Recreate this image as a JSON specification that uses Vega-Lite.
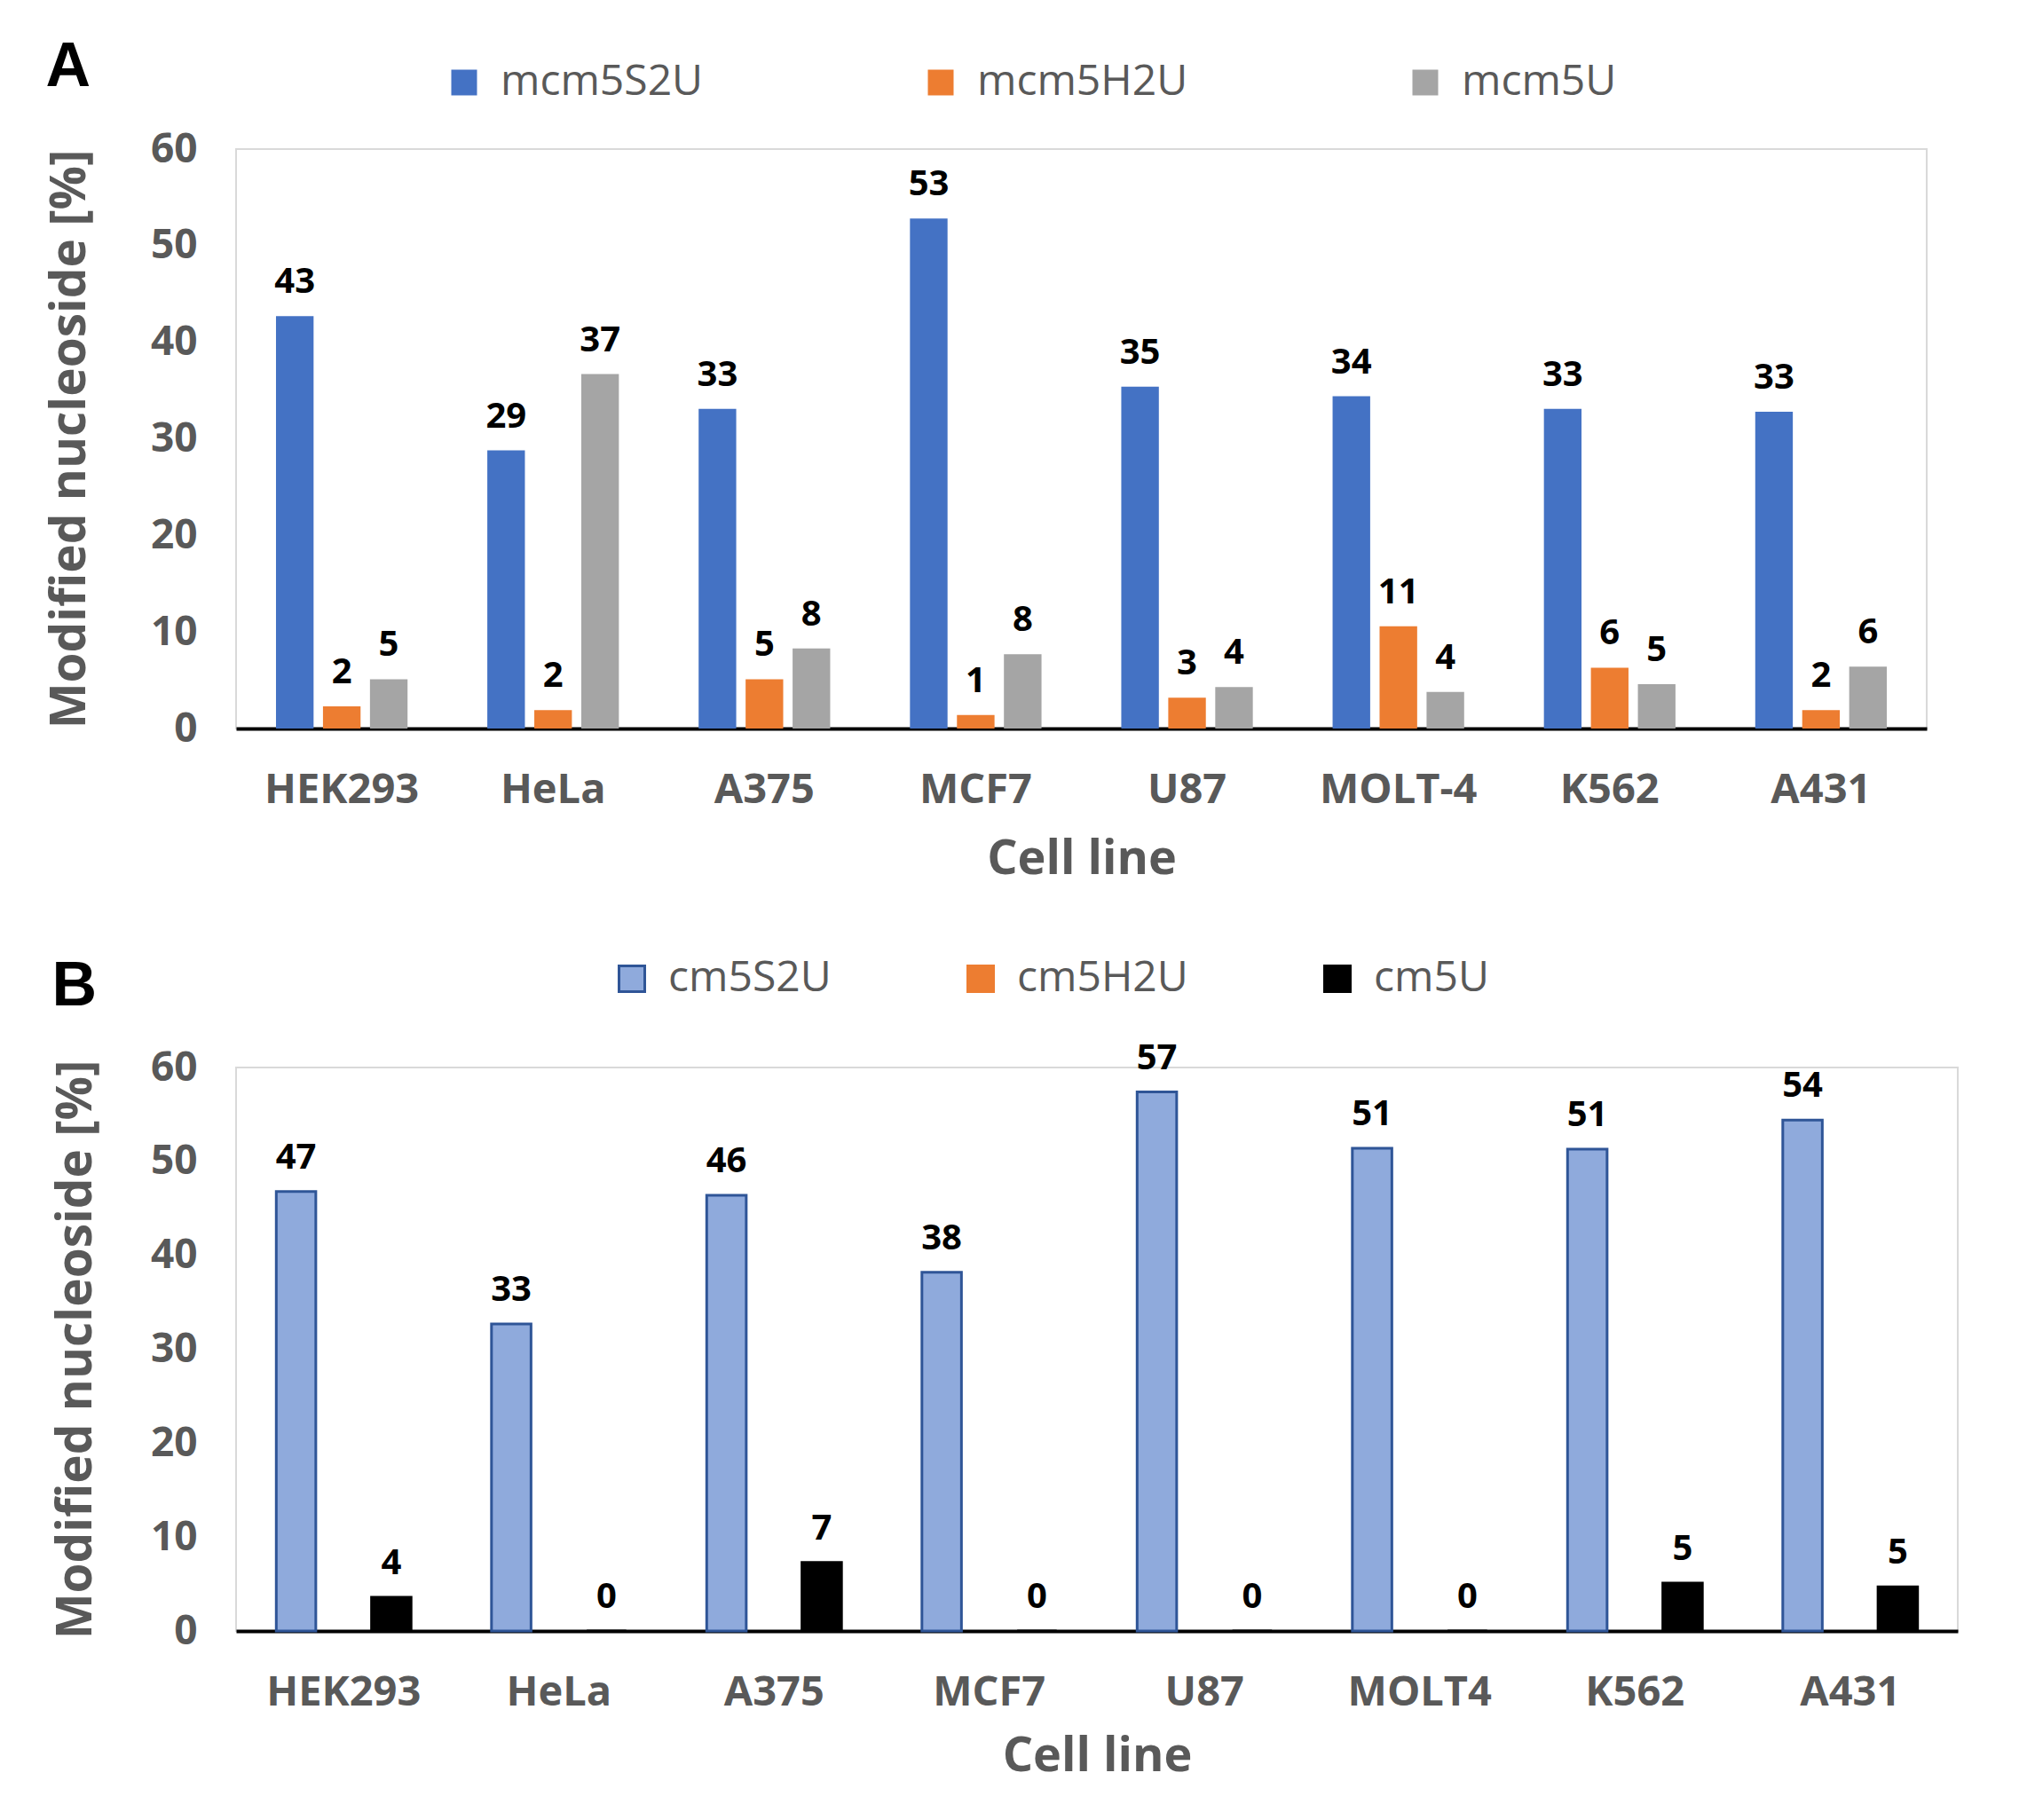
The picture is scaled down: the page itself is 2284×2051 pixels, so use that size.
{
  "$schema": "https://vega.github.io/schema/vega-lite/v6.json",
  "background": "white",
  "padding": {"left": 50, "top": 40, "right": 40, "bottom": 20},
  "config": {
    "font": "Open Sans",
    "view": {"stroke": "#d9d9d9", "strokeWidth": 2}
  },
  "spacing": 80,
  "resolve": {
    "scale": {"color": "independent", "stroke": "independent", "x": "independent", "xOffset": "independent", "y": "independent"},
    "legend": {"color": "independent", "stroke": "independent"}
  },
  "vconcat": [
    {
      "title": {"text": "A", "anchor": "start", "frame": "bounds", "fontSize": 70, "fontWeight": "bold", "font": "Liberation Sans", "color": "black", "offset": -43},
      "width": 1905,
      "height": 653,
      "data": {"values": [
        {"cell": "HEK293", "series": "mcm5S2U", "value": 42.7},
        {"cell": "HEK293", "series": "mcm5H2U", "value": 2.3},
        {"cell": "HEK293", "series": "mcm5U", "value": 5.1},
        {"cell": "HeLa", "series": "mcm5S2U", "value": 28.8},
        {"cell": "HeLa", "series": "mcm5H2U", "value": 1.9},
        {"cell": "HeLa", "series": "mcm5U", "value": 36.7},
        {"cell": "A375", "series": "mcm5S2U", "value": 33.1},
        {"cell": "A375", "series": "mcm5H2U", "value": 5.1},
        {"cell": "A375", "series": "mcm5U", "value": 8.3},
        {"cell": "MCF7", "series": "mcm5S2U", "value": 52.8},
        {"cell": "MCF7", "series": "mcm5H2U", "value": 1.4},
        {"cell": "MCF7", "series": "mcm5U", "value": 7.7},
        {"cell": "U87", "series": "mcm5S2U", "value": 35.4},
        {"cell": "U87", "series": "mcm5H2U", "value": 3.2},
        {"cell": "U87", "series": "mcm5U", "value": 4.3},
        {"cell": "MOLT-4", "series": "mcm5S2U", "value": 34.4},
        {"cell": "MOLT-4", "series": "mcm5H2U", "value": 10.6},
        {"cell": "MOLT-4", "series": "mcm5U", "value": 3.8},
        {"cell": "K562", "series": "mcm5S2U", "value": 33.1},
        {"cell": "K562", "series": "mcm5H2U", "value": 6.3},
        {"cell": "K562", "series": "mcm5U", "value": 4.6},
        {"cell": "A431", "series": "mcm5S2U", "value": 32.8},
        {"cell": "A431", "series": "mcm5H2U", "value": 1.9},
        {"cell": "A431", "series": "mcm5U", "value": 6.4}
      ]},
      "encoding": {
        "x": {
          "field": "cell", "type": "nominal",
          "sort": ["HEK293", "HeLa", "A375", "MCF7", "U87", "MOLT-4", "K562", "A431"],
          "scale": {"paddingInner": 0.333, "paddingOuter": 0.1667},
          "axis": {"title": "Cell line", "labelAngle": 0, "labelFontSize": 47, "labelColor": "#595959", "labelFontWeight": "bold", "labelPadding": 46, "ticks": false, "domainColor": "black", "domainWidth": 4, "titleFontSize": 54, "titleColor": "#595959", "titleFontWeight": "bold", "titlePadding": 28}
        },
        "xOffset": {
          "field": "series", "type": "nominal",
          "scale": {"domain": ["mcm5S2U", "mcm5H2U", "mcm5U"], "paddingInner": 0.2, "paddingOuter": 0.1}
        },
        "y": {
          "field": "value", "type": "quantitative",
          "scale": {"domain": [0, 60], "nice": false},
          "axis": {"title": "Modified nucleoside [%]", "values": [0, 10, 20, 30, 40, 50, 60], "ticks": false, "domain": false, "grid": false, "labelFontSize": 46, "labelColor": "#595959", "labelFontWeight": "bold", "labelPadding": 44, "titleFontSize": 55, "titleColor": "#595959", "titleFontWeight": "bold", "titlePadding": 62}
        }
      },
      "layer": [
        {
          "mark": {"type": "bar"},
          "encoding": {
            "color": {
              "field": "series", "type": "nominal",
              "scale": {"domain": ["mcm5S2U", "mcm5H2U", "mcm5U"], "range": ["#4472C4", "#ED7D31", "#A5A5A5"]},
              "legend": {"orient": "none", "legendX": 233, "legendY": -99, "direction": "horizontal", "title": null, "labelFontSize": 48, "labelColor": "#595959", "labelLimit": 500, "symbolType": "square", "symbolSize": 841, "symbolStrokeWidth": 0, "columnPadding": 243, "labelOffset": 17}
            }
          }
        },
        {
          "mark": {"type": "text", "baseline": "bottom", "dy": -18, "fontSize": 40, "fontWeight": "bold", "color": "black"},
          "encoding": {"text": {"field": "value", "type": "quantitative", "format": ".0f"}}
        }
      ]
    },
    {
      "title": {"text": "B", "anchor": "start", "frame": "bounds", "fontSize": 70, "fontWeight": "bold", "font": "Liberation Sans", "color": "black", "offset": -69},
      "width": 1940,
      "height": 635,
      "data": {"values": [
        {"cell": "HEK293", "series": "cm5S2U", "value": 46.8},
        {"cell": "HEK293", "series": "cm5U", "value": 3.6},
        {"cell": "HeLa", "series": "cm5S2U", "value": 32.7},
        {"cell": "HeLa", "series": "cm5U", "value": 0},
        {"cell": "A375", "series": "cm5S2U", "value": 46.4},
        {"cell": "A375", "series": "cm5U", "value": 7.3},
        {"cell": "MCF7", "series": "cm5S2U", "value": 38.2},
        {"cell": "MCF7", "series": "cm5U", "value": 0},
        {"cell": "U87", "series": "cm5S2U", "value": 57.4},
        {"cell": "U87", "series": "cm5U", "value": 0},
        {"cell": "MOLT4", "series": "cm5S2U", "value": 51.4},
        {"cell": "MOLT4", "series": "cm5U", "value": 0},
        {"cell": "K562", "series": "cm5S2U", "value": 51.3},
        {"cell": "K562", "series": "cm5U", "value": 5.1},
        {"cell": "A431", "series": "cm5S2U", "value": 54.4},
        {"cell": "A431", "series": "cm5U", "value": 4.7}
      ]},
      "encoding": {
        "x": {
          "field": "cell", "type": "nominal",
          "sort": ["HEK293", "HeLa", "A375", "MCF7", "U87", "MOLT4", "K562", "A431"],
          "scale": {"paddingInner": 0.336, "paddingOuter": 0.168},
          "axis": {"title": "Cell line", "labelAngle": 0, "labelFontSize": 47, "labelColor": "#595959", "labelFontWeight": "bold", "labelPadding": 46, "ticks": false, "domainColor": "black", "domainWidth": 4, "titleFontSize": 54, "titleColor": "#595959", "titleFontWeight": "bold", "titlePadding": 22}
        },
        "xOffset": {
          "field": "series", "type": "nominal",
          "scale": {"domain": ["cm5S2U", "cm5H2U", "cm5U"], "paddingInner": 0.17, "paddingOuter": 0.085}
        },
        "y": {
          "field": "value", "type": "quantitative",
          "scale": {"domain": [0, 60], "nice": false},
          "axis": {"title": "Modified nucleoside [%]", "values": [0, 10, 20, 30, 40, 50, 60], "ticks": false, "domain": false, "grid": false, "labelFontSize": 46, "labelColor": "#595959", "labelFontWeight": "bold", "labelPadding": 44, "titleFontSize": 55, "titleColor": "#595959", "titleFontWeight": "bold", "titlePadding": 55}
        }
      },
      "layer": [
        {
          "mark": {"type": "bar", "strokeWidth": 3},
          "encoding": {
            "color": {
              "field": "series", "type": "nominal",
              "scale": {"domain": ["cm5S2U", "cm5H2U", "cm5U"], "range": ["#8FAADC", "#ED7D31", "#000000"]},
              "legend": {"orient": "none", "legendX": 422, "legendY": -124, "direction": "horizontal", "title": null, "labelFontSize": 48, "labelColor": "#595959", "labelLimit": 500, "symbolType": "square", "symbolSize": 841, "symbolStrokeWidth": 3, "columnPadding": 144, "labelOffset": 17}
            },
            "stroke": {
              "field": "series", "type": "nominal",
              "scale": {"domain": ["cm5S2U", "cm5H2U", "cm5U"], "range": ["#2F5597", "#ED7D31", "#000000"]},
              "legend": {"orient": "none", "legendX": 422, "legendY": -124, "direction": "horizontal", "title": null, "labelFontSize": 48, "labelColor": "#595959", "labelLimit": 500, "symbolType": "square", "symbolSize": 841, "symbolStrokeWidth": 3, "columnPadding": 144, "labelOffset": 17}
            }
          }
        },
        {
          "mark": {"type": "text", "baseline": "bottom", "dy": -18, "fontSize": 40, "fontWeight": "bold", "color": "black"},
          "encoding": {"text": {"field": "value", "type": "quantitative", "format": ".0f"}}
        }
      ]
    }
  ]
}
